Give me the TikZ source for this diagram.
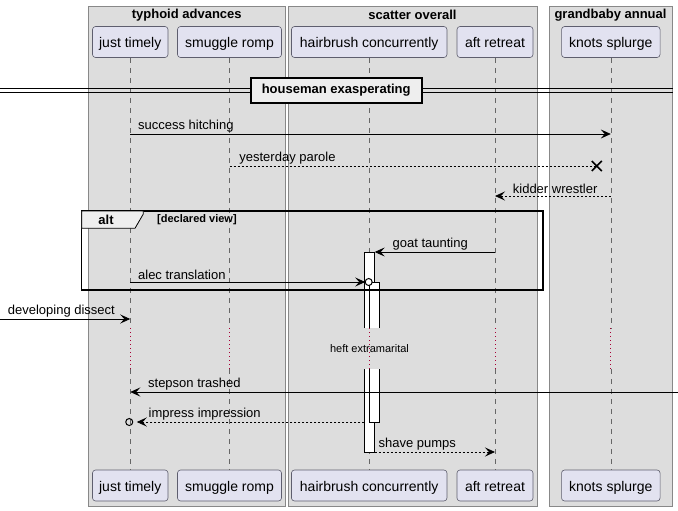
\documentclass[tikz,border=0pt]{standalone}
\usepackage{fontspec}
\setmainfont{Liberation Sans}
\usetikzlibrary{arrows.meta}

\definecolor{grpfill}{HTML}{DDDDDD}
\definecolor{grpline}{HTML}{888888}
\definecolor{partfill}{HTML}{E2E2F0}
\definecolor{partline}{HTML}{5E5E6E}
\definecolor{lifegray}{HTML}{666666}
\definecolor{delayred}{HTML}{A80036}
\definecolor{tabfill}{HTML}{EEEEEE}

\tikzset{
  grp/.style={draw=grpline, fill=grpfill, line width=0.8pt},
  grptitle/.style={font=\bfseries\fontsize{13}{15}\selectfont, inner sep=0pt},
  part/.style={draw=partline, fill=partfill, rounded corners=3pt, line width=0.6pt,
    minimum height=31pt, inner sep=0pt, text height=13pt, text depth=2pt,
    font=\fontsize{14}{16}\selectfont},
  lifeline/.style={draw=lifegray, line width=0.6pt, dash pattern=on 5pt off 5pt},
  delayline/.style={draw=delayred, line width=1pt, dash pattern=on 1pt off 3pt},
  msg/.style={->, line width=0.8pt},
  reply/.style={msg, dash pattern=on 2pt off 2pt},
  lbl/.style={font=\fontsize{13}{15}\selectfont, inner sep=1.5pt, anchor=south west},
  actbox/.style={line width=0.8pt},
  sepbox/.style={draw, fill=tabfill, line width=1.6pt, minimum width=171pt, minimum height=25pt,
    inner sep=0pt, font=\bfseries\fontsize{13}{15}\selectfont},
}

\begin{document}
\begin{tikzpicture}[x=1pt, y=-1pt, >={Stealth[length=10pt, width=9pt, inset=4pt]}]
  \useasboundingbox (0,0) rectangle (678,511);

  % --- GRUPOS ---
  \draw[grp] (88,6) rectangle (285.5,506);
  \draw[grp] (288,6) rectangle (537,506);
  \draw[grp] (549,6) rectangle (672,506);
  \node[grptitle] (gtyp) at (186.75,15) {typhoid advances};
  \node[grptitle] (gsca) at (412.5,15) {scatter overall};
  \node[grptitle] (ggra) at (610.5,15) {grandbaby annual};

  % --- PARTICIPANTES (arriba y abajo) ---
  \node[part, minimum width=75.5pt] (jt) at (130.25,42) {just timely};
  \node[part, minimum width=104pt] (sr) at (229.5,42) {smuggle romp};
  \node[part, minimum width=155.5pt] (hc) at (369.2,42) {hairbrush concurrently};
  \node[part, minimum width=76pt] (ar) at (495,42) {aft retreat};
  \node[part, minimum width=98.5pt] (ks) at (610.8,42) {knots splurge};

  \node[part, minimum width=75.5pt] (jt-b) at (130.25,485.5) {just timely};
  \node[part, minimum width=104pt] (sr-b) at (229.5,485.5) {smuggle romp};
  \node[part, minimum width=155.5pt] (hc-b) at (369.2,485.5) {hairbrush concurrently};
  \node[part, minimum width=76pt] (ar-b) at (495,485.5) {aft retreat};
  \node[part, minimum width=98.5pt] (ks-b) at (610.8,485.5) {knots splurge};

  % --- LINEAS DE VIDA (con retardo) ---
  \coordinate (dtop) at (0,328);
  \coordinate (dbot) at (0,369);
  \foreach \p in {jt,sr,hc,ar,ks} {
    \draw[lifeline] (\p.south) -- (\p |- dtop);
    \draw[delayline] (\p |- dtop) -- (\p |- dbot);
    \draw[lifeline] (\p |- dbot) -- (\p-b.north);
  }

  % --- SEPARADOR ---
  \draw[line width=0.8pt] (0,88.5) -- (673,88.5);
  \draw[line width=0.8pt] (0,92.5) -- (673,92.5);
  \node[sepbox] (sep) at (336.2,90.5) {houseman exasperating};

  % --- ACTIVACIONES ---
  \fill[white] (364.3,252) rectangle (374.7,328);
  \draw[actbox] (364.3,328) -- (364.3,252) -- (374.7,252) -- (374.7,328);
  \fill[white] (364.3,369) rectangle (374.7,452);
  \draw[actbox] (364.3,369) -- (364.3,452) -- (374.7,452) -- (374.7,369);
  \fill[white] (369.3,282) rectangle (379.7,328);
  \draw[actbox] (369.3,328) -- (369.3,282) -- (379.7,282) -- (379.7,328);
  \fill[white] (369.3,369) rectangle (379.7,422);
  \draw[actbox] (369.3,369) -- (369.3,422) -- (379.7,422) -- (379.7,369);

  % --- MENSAJES ---
  \coordinate (m1) at (0,134);
  \coordinate (m2) at (0,166);
  \coordinate (m3) at (0,196);
  \coordinate (m4) at (0,252);
  \coordinate (m5) at (0,282);
  \coordinate (m6) at (0,422);
  \coordinate (m7) at (0,452);
  \coordinate (lft) at (0,319);
  \coordinate (rgt) at (678,392);

  \draw[msg] (jt |- m1) -- (ks |- m1) node[lbl, pos=0, xshift=6pt] {success hitching};

  \coordinate (kill) at ([xshift=-14pt]ks |- m2);
  \draw[reply, -] (sr |- m2) -- (kill) node[lbl, pos=0, xshift=8pt] {yesterday parole};
  \draw[line width=1.6pt] (kill) +(-5,-5) -- +(5,5) (kill) +(-5,5) -- +(5,-5);

  \draw[reply] (ks |- m3) -- (ar |- m3) node[lbl, pos=1, xshift=16pt] {kidder wrestler};
  \draw[msg] (ar |- m4) -- ([xshift=5.5pt]hc |- m4) node[lbl, pos=1, xshift=16pt] {goat taunting};

  \draw[msg] (jt |- m5) -- ([xshift=-4pt]hc |- m5) node[lbl, pos=0, xshift=6pt] {alec translation};
  \draw[fill=white, line width=1pt] ([xshift=-0.5pt]hc |- m5) circle[radius=3.5pt];

  \draw[msg] (lft) -- (jt |- lft) node[lbl, pos=0, xshift=6pt] {developing dissect};
  \draw[msg] (rgt) -- (jt |- rgt) node[lbl, pos=1, xshift=16pt] {stepson trashed};

  \draw[reply] ([xshift=-4.9pt]hc |- m6) -- ([xshift=6.5pt]jt |- m6) node[lbl, pos=1, xshift=10pt] {impress impression};
  \draw[line width=1pt] ([xshift=-1pt]jt |- m6) circle[radius=3.5pt];

  \draw[reply] ([xshift=5.5pt]hc |- m7) -- (ar |- m7) node[lbl, pos=0, xshift=2pt] {shave pumps};

  % --- FRAGMENTO ALT ---
  \draw[line width=1.5pt] (81.7,211) rectangle (543,290);
  \draw[fill=tabfill, line width=0.8pt] (81.7,211) -- (143.3,211) -- (143.3,214) -- (135,228.3) -- (81.7,228.3) -- cycle;
  \node[font=\bfseries\fontsize{13}{15}\selectfont, inner sep=0pt] (alt) at (106,220) {alt};
  \node[font=\bfseries\fontsize{11}{13}\selectfont, inner sep=0pt, anchor=west] (guard) at (157,220) {[declared view]};

  % --- RETARDO ---
  \node[font=\fontsize{11}{13}\selectfont, inner sep=0pt] (delay) at (369.5,349) {heft extramarital};

\end{tikzpicture}
\end{document}
